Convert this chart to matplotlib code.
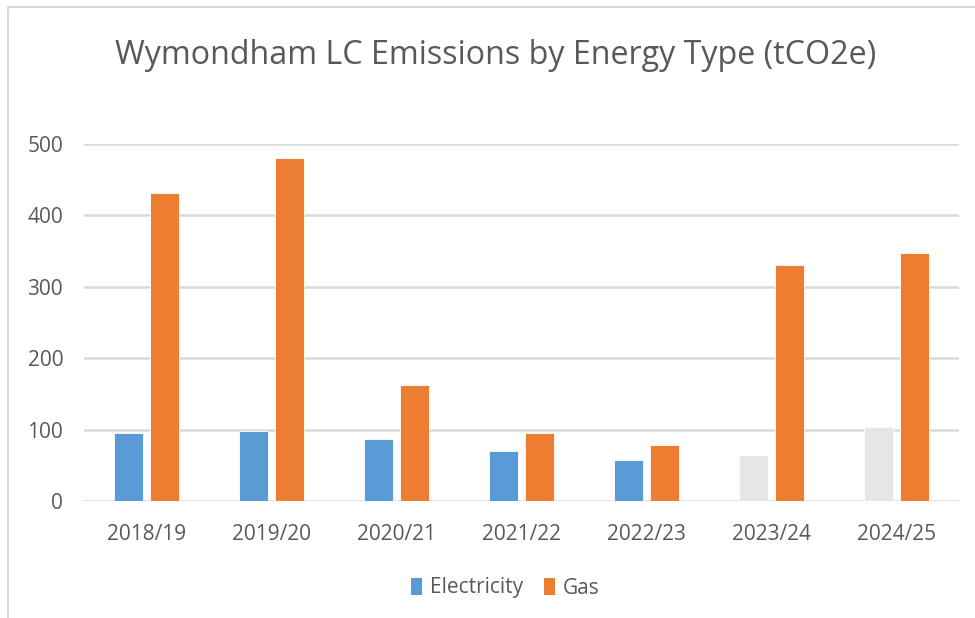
import matplotlib
matplotlib.use("Agg")
import matplotlib.pyplot as plt
from matplotlib.patches import Patch
from matplotlib.lines import Line2D
import numpy as np

years = ["2018/19", "2019/20", "2020/21", "2021/22", "2022/23", "2023/24", "2024/25"]
electricity = [95, 98, 87, 70, 58, 64, 104]
gas = [432, 480, 162, 95, 78, 330, 347]
electricity_greyed = [False, False, False, False, False, True, True]
yticks = [0, 100, 200, 300, 400, 500]

BLUE = "#5B9BD5"
ORANGE = "#ED7D31"
GREY_BAR = "#E6E6E6"
TEXT = "#595959"
GRID = "#D9D9D9"
FONT = "Open Sans"

plt.rcParams["font.family"] = [FONT, "DejaVu Sans"]

fig = plt.figure(figsize=(9.75, 6.18), dpi=100)
ax = fig.add_axes([84/975, 1 - 501/618, (959 - 84)/975, (501 - 144)/618])

x = np.arange(len(years))
w = 0.225
off = 0.144
ecols = [GREY_BAR if g else BLUE for g in electricity_greyed]
ax.bar(x - off, electricity, width=w, color=ecols, edgecolor="white", linewidth=0.6, zorder=3)
ax.bar(x + off, gas, width=w, color=ORANGE, edgecolor="white", linewidth=0.6, zorder=3)

ax.set_xlim(-0.5, len(years) - 0.5)
ax.set_ylim(0, 500)
ax.set_yticks(yticks)
ax.set_yticklabels([str(v) for v in yticks])
ax.set_xticks(x)
ax.set_xticklabels(years)
for s in ax.spines.values():
    s.set_visible(False)
ax.yaxis.grid(True, color=GRID, linewidth=1.8, zorder=0)
ax.set_axisbelow(True)
ax.tick_params(axis="both", length=0, colors=TEXT, labelsize=15)
ax.tick_params(axis="y", pad=15)
ax.tick_params(axis="x", pad=16.5)

fig.text(496/975, 1 - 55/618, "Wymondham LC Emissions by Energy Type (tCO2e)",
         ha="center", va="center", fontsize=23.2, color=TEXT)

handles = [Patch(facecolor=BLUE, edgecolor="none"), Patch(facecolor=ORANGE, edgecolor="none")]
fig.legend(handles, ["Electricity", "Gas"], loc="center", bbox_to_anchor=(505/975, 1 - 588/618),
           ncol=2, frameon=False, fontsize=15, labelcolor=TEXT,
           handlelength=0.55, handleheight=0.85, handletextpad=0.35, columnspacing=1.0)

# chart border (top and left visible)
fig.add_artist(Line2D([8/975, 1], [1 - 7/618, 1 - 7/618], color=GRID, linewidth=1.5))
fig.add_artist(Line2D([8/975, 8/975], [0, 1 - 7/618], color=GRID, linewidth=1.5))

fig.savefig("out.png", dpi=100, facecolor="white")
